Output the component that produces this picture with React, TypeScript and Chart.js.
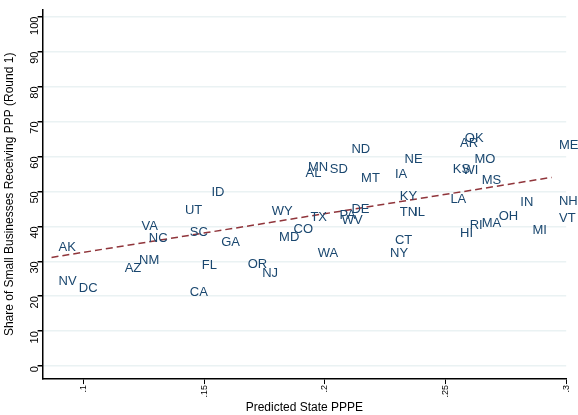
import { useRef, useEffect } from "react";
import Chart from "chart.js/auto";

const states = ["AK","NV","DC","VA","NC","AZ","NM","UT","SC","ID","GA","FL","CA","OR","NJ","WY","MD","CO","AL","MN","SD","TX","PA","WV","DE","WA","ND","MT","NE","IA","KY","TN","IL","CT","NY","KS","WI","AR","OK","MO","MS","LA","HI","RI","MA","OH","IN","MI","ME","NH","VT"];
const pppe = [0.0896,0.0896,0.098,0.124,0.127,0.117,0.123,0.142,0.144,0.153,0.157,0.149,0.144,0.168,0.174,0.178,0.181,0.187,0.192,0.193,0.202,0.194,0.206,0.207,0.211,0.197,0.211,0.215,0.233,0.229,0.231,0.231,0.237,0.229,0.227,0.253,0.257,0.256,0.258,0.262,0.265,0.252,0.256,0.26,0.265,0.272,0.281,0.286,0.297,0.297,0.297];
const share = [34,24.3,22.3,40,36.6,28,30.3,44.6,38.3,49.7,35.4,28.9,21.1,29.1,26.6,44.3,36.9,39.1,55.1,56.9,56.3,42.6,43.1,41.7,44.9,32.3,62,53.7,59.1,54.9,48.6,44,44,36,32.3,56.3,56,63.7,65.1,59.1,53.1,47.7,38,40.3,40.9,42.9,46.9,38.9,63.1,47.1,42.3];
const fitX = [0.0867, 0.294];
const fitY = [31.1, 54];
const xTicks = [0.1, 0.15, 0.2, 0.25, 0.3];
const yTicks = [0, 10, 20, 30, 40, 50, 60, 70, 80, 90, 100];

const FONT = "'Liberation Sans', Arial, sans-serif";
const NAVY = "#1a476f";

const labelPlugin = {
  id: "stateLabels",
  afterDatasetsDraw(chart: any) {
    const ctx = chart.ctx;
    const meta = chart.getDatasetMeta(0);
    ctx.save();
    ctx.font = `13px ${FONT}`;
    ctx.fillStyle = NAVY;
    ctx.textAlign = "left";
    ctx.textBaseline = "middle";
    meta.data.forEach((pt: any, i: number) => {
      ctx.fillText(states[i], pt.x, pt.y);
    });
    ctx.restore();
  },
};

const App = () => {
  const canvasRef = useRef<HTMLCanvasElement>(null);

  useEffect(() => {
    document.body.style.margin = "0";
    const ctx = canvasRef.current!.getContext("2d")!;
    const chart = new Chart(ctx, {
      type: "scatter",
      data: {
        datasets: [
          {
            data: pppe.map((x, i) => ({ x, y: share[i] })),
            pointRadius: 0,
            pointHoverRadius: 0,
          },
          {
            type: "line",
            data: fitX.map((x, i) => ({ x, y: fitY[i] })),
            borderColor: "#90353b",
            borderWidth: 1.5,
            borderDash: [7, 4],
            pointRadius: 0,
          } as any,
        ],
      },
      options: {
        animation: false,
        responsive: false,
        layout: { padding: { top: 4, right: 2, bottom: 0 } },
        plugins: { legend: { display: false }, tooltip: { enabled: false } },
        scales: {
          x: {
            type: "linear",
            min: 0.083,
            max: 0.3,
            afterBuildTicks: (s: any) => { s.ticks = xTicks.map((v) => ({ value: v })); },
            ticks: {
              minRotation: 90,
              maxRotation: 90,
              padding: 1,
              color: "#000",
              font: { family: FONT, size: 9 },
              callback: (v: any) => String(Number(v)).replace("0.", "."),
            },
            grid: { color: "rgba(0,0,0,0)", tickColor: "#000", tickLength: 5 },
            border: { color: "#000", width: 1.5 },
            title: { display: true, text: "Predicted State PPPE", color: "#000", font: { family: FONT, size: 12 }, padding: { top: 2, bottom: 0 } },
          },
          y: {
            min: -3.7,
            max: 102,
            afterBuildTicks: (s: any) => { s.ticks = yTicks.map((v) => ({ value: v })); },
            ticks: {
              minRotation: 90,
              maxRotation: 90,
              color: "#000",
              font: { family: FONT, size: 11 },
            },
            grid: { color: "#eaf2f3", tickColor: "#000", tickLength: 5, lineWidth: 1.5 },
            border: { color: "#000", width: 1.5 },
            title: { display: true, text: "Share of Small Businesses Receiving PPP (Round 1)", color: "#000", font: { family: FONT, size: 12 }, padding: 2 },
          },
        },
      },
      plugins: [labelPlugin],
    });
    return () => chart.destroy();
  }, []);

  return <canvas ref={canvasRef} width={578} height={415} style={{ display: "block", background: "#fff" }} />;
};

export default App;
